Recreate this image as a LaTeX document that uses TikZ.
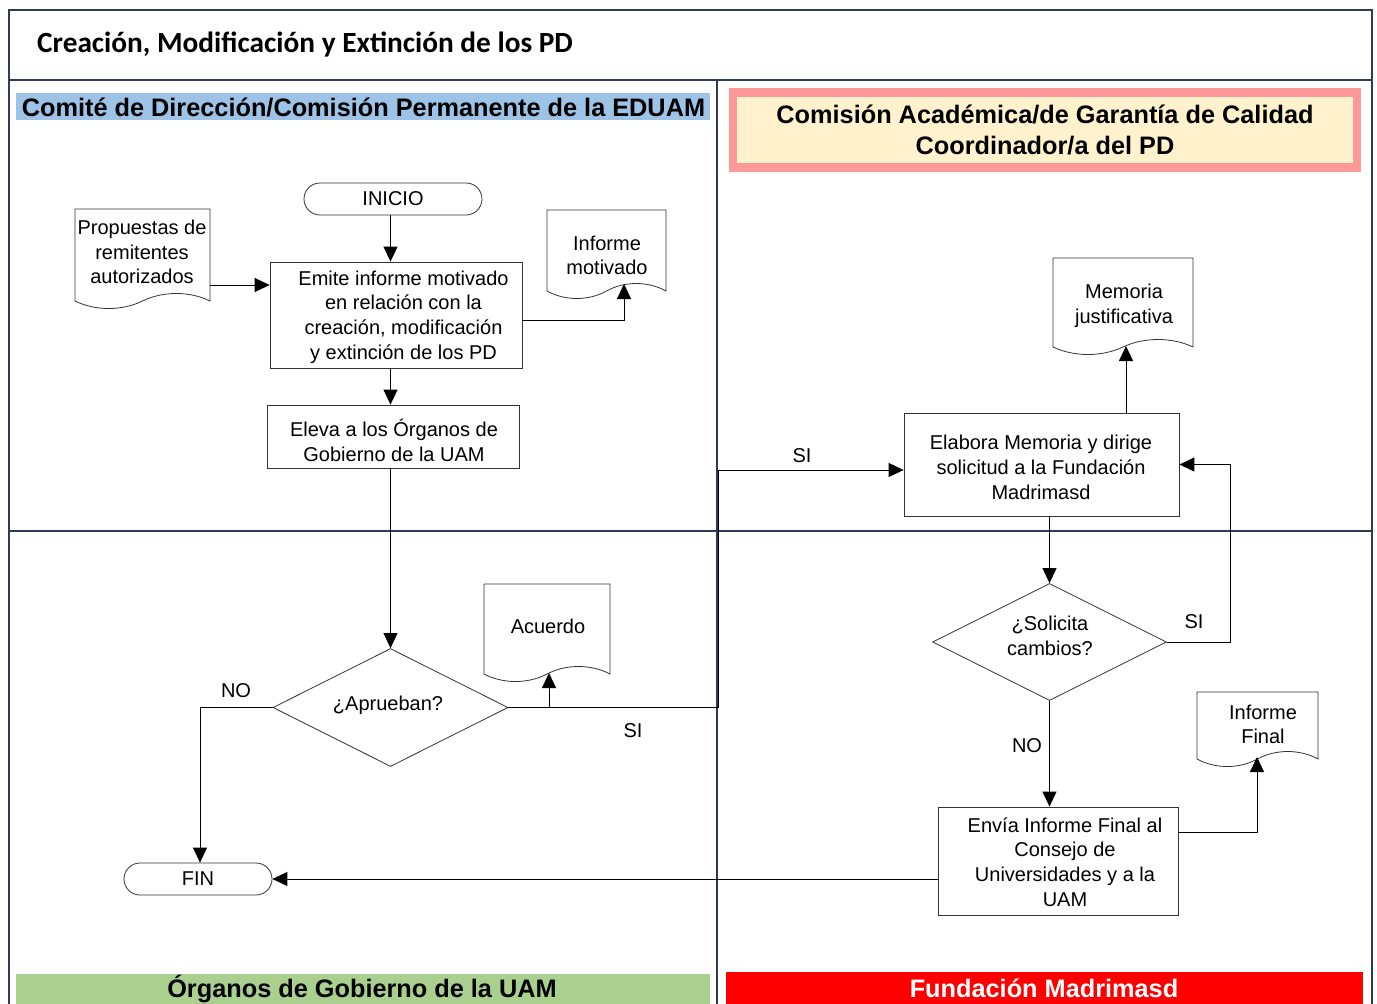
\documentclass[tikz,border=0pt]{standalone}
\usepackage{fontspec}
\setmainfont{Liberation Sans}
\newfontfamily\titlefont{Carlito}
\usetikzlibrary{shapes.geometric,arrows.meta,calc}
\definecolor{laneline}{RGB}{47,58,86}
\definecolor{hblue}{HTML}{9DC3E6}
\definecolor{hpink}{HTML}{FF9999}
\definecolor{hcream}{HTML}{FFF2CC}
\definecolor{hgreen}{HTML}{A9D08E}
\definecolor{hred}{HTML}{FF0000}
\newcommand{\docpath}[4]{%
 \draw[docline] (#1,#2) -- (#3,#2) -- (#3,#4)
   .. controls ({#3-0.15*(#3-#1)},{#4-10}) and ({#3-0.35*(#3-#1)},{#4-10}) .. ({(#1+#3)/2},#4)
   .. controls ({#1+0.35*(#3-#1)},{#4+10}) and ({#1+0.15*(#3-#1)},{#4+10}) .. (#1,#4) -- cycle;}
\begin{document}
\begin{tikzpicture}[x=1pt,y=-1pt,
  every node/.style={font=\fontsize{20}{24.7}\selectfont, inner sep=0pt, align=center},
  lanestroke/.style={draw=laneline, line width=1.2pt},
  docline/.style={draw=black!80, line width=0.8pt},
  proc/.style={draw=black!80, line width=0.8pt},
  term/.style={draw=black!80, line width=0.8pt, rounded corners=16pt, minimum height=32pt},
  dec/.style={draw=black!80, line width=0.8pt, shape=diamond, minimum width=235pt, minimum height=118pt},
  hdr/.style={font=\bfseries\fontsize{25.3}{31}\selectfont},
  arr/.style={-{Triangle[width=14pt,length=15pt]}, line width=0.9pt}]
\useasboundingbox (0,0) rectangle (1377,1004);
% frame and lanes
\draw[lanestroke] (9,1004) -- (9,10) -- (1372,10) -- (1372,1004);
\draw[lanestroke] (9,80) -- (1372,80);
\draw[lanestroke] (717,80) -- (717,1004);
\draw[lanestroke] (9,531) -- (1372,531);
% title
\node[anchor=west, font=\titlefont\bfseries\fontsize{29.3}{34}\selectfont] (title) at (37,44.5) {Creación, Modificación y Extinción de los PD};
% lane headers
\fill[hblue] (16,93) rectangle (710,120);
\node[hdr] (h1) at (363.5,107) {Comité de Dirección/Comisión Permanente de la EDUAM};
\draw[hpink, line width=8.5pt, fill=hcream] (733,92.5) rectangle (1357,167.5);
\node[hdr] (h2) at (1045,129.5) {Comisión Académica/de Garantía de Calidad\\Coordinador/a del PD};
\fill[hgreen] (16,974) rectangle (710,1004);
\node[hdr] (h3) at (362,989) {Órganos de Gobierno de la UAM};
\fill[hred] (726,972) rectangle (1363,1004);
\node[hdr, text=white] (h4) at (1044,988) {Fundación Madrimasd};
% documents
\docpath{75}{209}{210}{301}
\node (prop) at (142,252) {Propuestas de\\remitentes\\autorizados};
\coordinate (propout) at (210,285);
\docpath{547}{210}{666}{291}
\node (infmot) at (607,255.5) {Informe\\motivado};
\coordinate (infmot-b) at (624,284);
\docpath{484}{584}{610}{674}
\node (acuerdo) at (548,626) {Acuerdo};
\coordinate (acuerdo-b) at (549,673);
\docpath{1053}{258}{1193}{347}
\node (memoria) at (1124,305.5) {Memoria\\justificativa};
\coordinate (memoria-b) at (1126,346);
\docpath{1197}{692}{1318}{759}
\node (inffin) at (1263,724.5) {Informe\\Final};
\coordinate (inffin-b) at (1257,757);
% process nodes
\node[term, minimum width=178pt] (inicio) at (393,199) {INICIO};
\node[term, minimum width=148pt] (fin) at (198,879) {FIN};
\node[proc, minimum width=252pt, minimum height=106pt] (emite) at (396,315) {};
\node (emite-t) at (403.5,317) {Emite informe motivado\\en relación con la\\creación, modificación\\y extinción de los PD};
\node[proc, minimum width=252pt, minimum height=63pt] (eleva) at (393,436.5) {};
\node (eleva-t) at (394,440.5) {Eleva a los Órganos de\\Gobierno de la UAM};
\node[dec] (aprueban) at (390.5,707.5) {};
\node (aprueban-t) at (388,705) {¿Aprueban?};
\node[proc, minimum width=275pt, minimum height=103pt] (elabora) at (1041.5,464.5) {};
\node (elabora-t) at (1041,467.5) {Elabora Memoria y dirige\\solicitud a la Fundación\\Madrimasd};
\node[dec, minimum width=234pt, minimum height=117pt] (solicita) at (1049.5,642) {};
\node (solicita-t) at (1050,635.5) {¿Solicita\\cambios?};
\node[proc, minimum width=240pt, minimum height=108pt] (envia) at (1058,861) {};
\node (envia-t) at (1065,862) {Envía Informe Final al\\Consejo de\\Universidades y a la\\UAM};
% helper coordinates
\coordinate (mid) at (718,707.5);
\coordinate (r1) at (1230,642);
% connectors
\draw[arr] (aprueban.north |- inicio.south) -- (aprueban.north |- emite.north);
\draw[arr] (propout) -- (propout -| emite.west);
\draw[arr] ([yshift=-5pt]emite.east) -| (infmot-b);
\draw[arr] (aprueban.north |- emite.south) -- (aprueban.north |- eleva.north);
\draw[arr] (aprueban.north |- eleva.south) -- (aprueban.north);
\draw[arr] (aprueban.east) -- (mid) |- ([yshift=-5.5pt]elabora.west);
\draw[arr] (acuerdo-b |- aprueban.east) -- (acuerdo-b);
\draw[arr] (aprueban.west) -| ([xshift=2pt]fin.north);
\draw[arr] (memoria-b |- elabora.north) -- (memoria-b);
\draw[arr] (solicita.north |- elabora.south) -- (solicita.north);
\draw[arr] (solicita.east) -- (r1) |- (elabora.east);
\draw[arr] (solicita.south) -- (solicita.south |- envia.north);
\draw[arr] ([yshift=29pt]envia.east) -| (inffin-b);
\draw[arr] (fin.east -| envia.west) -- (fin.east);
% labels
\node (l1) at (236,691) {NO};
\node (l2) at (633,731) {SI};
\node (l3) at (802,456) {SI};
\node (l4) at (1194,622) {SI};
\node (l5) at (1027,746) {NO};
\end{tikzpicture}
\end{document}
